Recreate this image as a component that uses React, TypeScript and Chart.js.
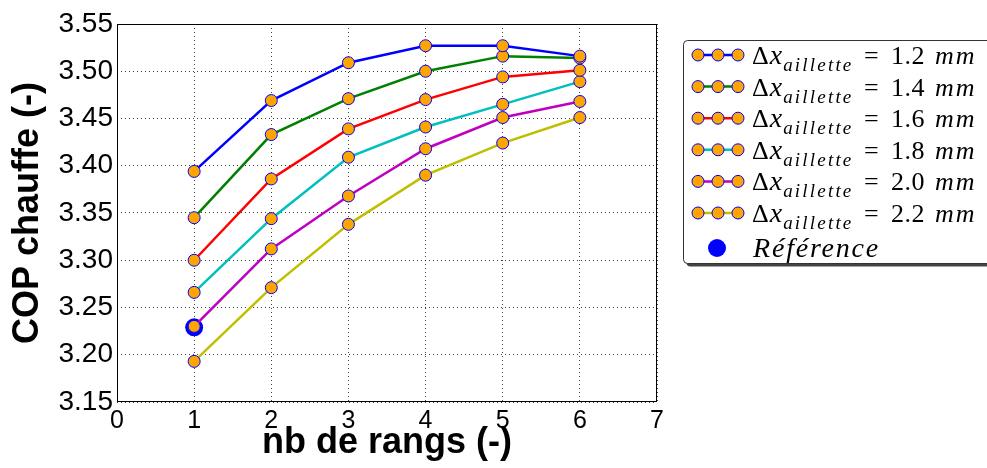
import React, { useEffect, useRef } from "react";
import { Chart, registerables } from "chart.js";

Chart.register(...registerables);

const rangs = [1, 2, 3, 4, 5, 6];
const cop12 = [3.394, 3.469, 3.509, 3.527, 3.527, 3.516];
const cop14 = [3.345, 3.433, 3.471, 3.5, 3.516, 3.514];
const cop16 = [3.3, 3.386, 3.439, 3.47, 3.494, 3.501];
const cop18 = [3.266, 3.344, 3.409, 3.441, 3.465, 3.489];
const cop20 = [3.23, 3.312, 3.368, 3.418, 3.451, 3.468];
const cop22 = [3.193, 3.271, 3.338, 3.39, 3.424, 3.451];
const ecartLabels = ["1.2", "1.4", "1.6", "1.8", "2.0", "2.2"];
const lineColors = ["#0000ff", "#008000", "#ff0000", "#00bfbf", "#bf00bf", "#bfbf00"];
const refRangs = [1];
const refCop = [3.229];
const refLabel = "Référence";
const xTickValues = [0, 1, 2, 3, 4, 5, 6, 7];
const yTickValues = [3.15, 3.2, 3.25, 3.3, 3.35, 3.4, 3.45, 3.5, 3.55];
const xTitle = "nb de rangs (-)";
const yTitle = "COP chauffe (-)";

const seriesValues = [cop12, cop14, cop16, cop18, cop20, cop22];

const MARKER_FILL = "#ffa500";
const MARKER_EDGE = "#0000ff";
const SERIF = "'Liberation Serif', 'DejaVu Serif', serif";

function roundRectPath(ctx: CanvasRenderingContext2D, x: number, y: number, w: number, h: number, r: number) {
  ctx.beginPath();
  ctx.moveTo(x + r, y);
  ctx.lineTo(x + w - r, y);
  ctx.arcTo(x + w, y, x + w, y + r, r);
  ctx.lineTo(x + w, y + h - r);
  ctx.arcTo(x + w, y + h, x + w - r, y + h, r);
  ctx.lineTo(x + r, y + h);
  ctx.arcTo(x, y + h, x, y + h - r, r);
  ctx.lineTo(x, y + r);
  ctx.arcTo(x, y, x + r, y, r);
  ctx.closePath();
}

const framePlugin = {
  id: "frame",
  beforeDatasetsDraw(chart: any) {
    const { ctx, chartArea } = chart;
    ctx.save();
    ctx.strokeStyle = "#000";
    ctx.lineWidth = 1;
    ctx.strokeRect(chartArea.left + 0.5, chartArea.top + 0.5, chartArea.right - chartArea.left - 1, chartArea.bottom - chartArea.top - 1);
    ctx.restore();
  },
};

const legendPlugin = {
  id: "mathLegend",
  afterDraw(chart: any) {
    const ctx: CanvasRenderingContext2D = chart.ctx;
    const c = ctx as any;
    ctx.save();
    const bx = 683.5, by = 40.5, bw = 330, bh = 223;
    ctx.fillStyle = "#444";
    roundRectPath(ctx, bx + 3, by + 3, bw, bh, 4);
    ctx.fill();
    ctx.fillStyle = "#fff";
    roundRectPath(ctx, bx, by, bw, bh, 4);
    ctx.fill();
    ctx.strokeStyle = "#333";
    ctx.lineWidth = 1;
    ctx.stroke();

    ctx.textBaseline = "alphabetic";
    ctx.textAlign = "left";
    for (let i = 0; i < ecartLabels.length; i++) {
      const cy = 55 + i * 31.6;
      ctx.strokeStyle = lineColors[i];
      ctx.lineWidth = 2.5;
      ctx.beginPath();
      ctx.moveTo(698, cy);
      ctx.lineTo(738, cy);
      ctx.stroke();
      for (const mx of [698, 718, 738]) {
        ctx.beginPath();
        ctx.arc(mx, cy, 6, 0, Math.PI * 2);
        ctx.fillStyle = MARKER_FILL;
        ctx.fill();
        ctx.lineWidth = 1;
        ctx.strokeStyle = MARKER_EDGE;
        ctx.stroke();
      }
      ctx.fillStyle = "#000";
      c.letterSpacing = "0px";
      let x = 752;
      ctx.font = `26px ${SERIF}`;
      ctx.fillText("\u0394", x, cy + 9);
      x += ctx.measureText("\u0394").width + 1;
      ctx.font = `italic 28px ${SERIF}`;
      ctx.fillText("x", x, cy + 9);
      x += ctx.measureText("x").width + 1;
      ctx.font = `italic 19px ${SERIF}`;
      c.letterSpacing = "2.2px";
      ctx.fillText("aillette", x, cy + 16);
      c.letterSpacing = "0px";
      ctx.font = `26px ${SERIF}`;
      ctx.fillText("=", 864, cy + 9);
      c.letterSpacing = "0.5px";
      ctx.fillText(ecartLabels[i], 891, cy + 9);
      ctx.font = `italic 26px ${SERIF}`;
      c.letterSpacing = "2px";
      ctx.fillText("mm", 935, cy + 9);
    }
    const ry = 248;
    ctx.beginPath();
    ctx.arc(717, ry, 9, 0, Math.PI * 2);
    ctx.fillStyle = "#0000ff";
    ctx.fill();
    ctx.fillStyle = "#000";
    ctx.font = `italic 28px ${SERIF}`;
    c.letterSpacing = "1.8px";
    ctx.fillText(refLabel, 753, ry + 9);
    ctx.restore();
  },
};

export default function App() {
  const canvasRef = useRef<HTMLCanvasElement | null>(null);

  useEffect(() => {
    document.body.style.margin = "0";
    const canvas = canvasRef.current;
    if (!canvas) return;

    const datasets: any[] = seriesValues.map((vals, i) => ({
      label: ecartLabels[i],
      data: rangs.map((r, j) => ({ x: r, y: vals[j] })),
      borderColor: lineColors[i],
      borderWidth: 2.5,
      pointRadius: 6,
      pointHoverRadius: 6,
      pointBackgroundColor: MARKER_FILL,
      pointBorderColor: MARKER_EDGE,
      pointBorderWidth: 1,
      fill: false,
      tension: 0,
    }));
    datasets.push({
      label: refLabel,
      data: refRangs.map((r, j) => ({ x: r, y: refCop[j] })),
      showLine: false,
      pointRadius: 9,
      pointBackgroundColor: "#0000ff",
      pointBorderColor: "#0000ff",
      pointBorderWidth: 0,
      borderColor: "#0000ff",
    });

    const chart = new Chart(canvas, {
      type: "line",
      data: { datasets },
      options: {
        responsive: false,
        animation: false,
        devicePixelRatio: 1,
        layout: { padding: { left: 0, right: 330, top: 24, bottom: 0 } },
        plugins: { legend: { display: false }, tooltip: { enabled: false } },
        scales: {
          x: {
            type: "linear",
            min: 0,
            max: 7,
            z: 1,
            afterBuildTicks: (s: any) => {
              s.ticks = xTickValues.map((v) => ({ value: v }));
            },
            afterFit: (s: any) => {
              s.height = 66;
            },
            ticks: {
              padding: 4,
              color: "#000",
              font: { family: "'Liberation Sans', Arial, sans-serif", size: 25 },
              callback: (v: any) => String(v),
              maxRotation: 0,
            },
            grid: { color: "rgba(0,0,0,0.75)", lineWidth: 1, drawTicks: false },
            border: { display: false, dash: [1, 3] },
            title: {
              display: true,
              text: xTitle,
              color: "#000",
              font: { family: "'Liberation Sans', Arial, sans-serif", size: 36, weight: "bold", lineHeight: 1 },
              padding: { top: 0, bottom: 7 },
            },
          },
          y: {
            type: "linear",
            min: 3.15,
            max: 3.55,
            z: 1,
            afterBuildTicks: (s: any) => {
              s.ticks = yTickValues.map((v) => ({ value: v }));
            },
            afterFit: (s: any) => {
              s.width = 117;
            },
            ticks: {
              padding: 4,
              color: "#000",
              font: { family: "'Liberation Sans', Arial, sans-serif", size: 28 },
              callback: (v: any) => Number(v).toFixed(2),
            },
            grid: { color: "rgba(0,0,0,0.75)", lineWidth: 1, drawTicks: false },
            border: { display: false, dash: [1, 3] },
            title: {
              display: true,
              text: yTitle,
              color: "#000",
              font: { family: "'Liberation Sans', Arial, sans-serif", size: 36, weight: "bold", lineHeight: 1 },
              padding: { top: 10, bottom: 0 },
            },
          },
        },
      },
      plugins: [framePlugin, legendPlugin],
    } as any);

    return () => {
      chart.destroy();
    };
  }, []);

  return (
    <div style={{ position: "absolute", left: 0, top: 0, width: 987, height: 468, background: "#fff" }}>
      <canvas ref={canvasRef} width={987} height={468} style={{ display: "block" }} />
    </div>
  );
}
